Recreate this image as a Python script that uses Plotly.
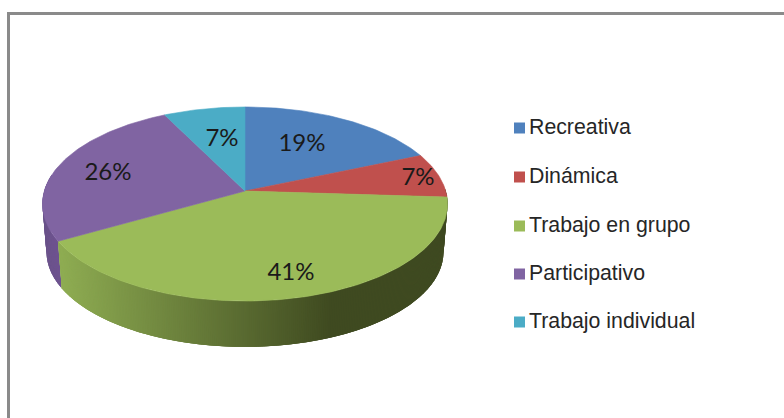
import math
import plotly.graph_objects as go

# chart data
categories = ["Recreativa", "Dinámica", "Trabajo en grupo", "Participativo", "Trabajo individual"]
values = [18.6, 7.4, 40.8, 25.8, 7.4]
colors = ["#4f81bd", "#c0504d", "#9bbb59", "#8064a2", "#4bacc6"]

# where Excel left the percentage labels (pixels)
label_x = [302, 418, 291, 108, 222]
label_y = [145, 179, 274, 174, 140]
legend_y = [128, 177, 226, 274, 322]

# tilted pie projection, fitted to the reference
CX, CY = 245, 191
RX, RY = 200.7, 95.3
PERSP = 0.134
DEPTH = 48
BOTTOM_SCALE = 0.98


def project(angle, scale=1.0, drop=0.0):
    """angle in degrees, clockwise from the top of the pie"""
    a = math.radians(angle)
    x, y = math.sin(a), -math.cos(a)
    d = 1 - PERSP * y
    return CX + scale * RX * x / d, CY + drop + scale * RY * y / d


def green_wall(x):
    # horizontal shading of the front wall, light on the left, dark from the middle on
    t = min(max((x - 60) / 270, 0), 1)
    r = round(142 + (63 - 142) * t)
    g = round(172 + (74 - 172) * t)
    b = round(82 + (32 - 82) * t)
    return f"rgb({r},{g},{b})"


def purple_wall(x):
    t = min(max((x - 42) / 20, 0), 1)
    r = round(106 + (112 - 106) * t)
    g = round(82 + (84 - 82) * t)
    b = round(138 + (146 - 138) * t)
    return f"rgb({r},{g},{b})"


fig = go.Figure()


def add_poly(xs, ys, color, line_width=0.6):
    fig.add_trace(go.Scatter(
        x=xs, y=ys, mode="lines", fill="toself", fillcolor=color,
        line=dict(color=color, width=line_width), hoverinfo="skip", showlegend=False,
    ))


def add_wall(start, end, shade):
    # strips overlap the previous one, that hides the seams between them
    n = int(end - start) * 2
    step = (end - start) / n
    for k in range(n):
        a0 = start + step * k
        a1 = min(a0 + step * 3, end)
        x0, y0 = project(a0)
        x1, y1 = project(a1)
        x2, y2 = project(a1, BOTTOM_SCALE, DEPTH)
        x3, y3 = project(a0, BOTTOM_SCALE, DEPTH)
        add_poly([x0, x1, x2, x3, x0], [y0, y1, y2, y3, y0], shade((x0 + x1) / 2), 0)


# slice limits
limits = [0]
for v in values:
    limits.append(limits[-1] + v * 360 / sum(values))

# side wall, front part only
add_wall(limits[3], 280, purple_wall)
add_wall(88, limits[3], green_wall)

# top face
for i, color in enumerate(colors):
    n = max(int(limits[i + 1] - limits[i]), 2)
    pts = [project(limits[i] + (limits[i + 1] - limits[i]) * k / n) for k in range(n + 1)]
    xs = [CX] + [p[0] for p in pts] + [CX]
    ys = [CY] + [p[1] for p in pts] + [CY]
    add_poly(xs, ys, color)

# percentage labels
fig.add_trace(go.Scatter(
    x=label_x, y=label_y, mode="text",
    text=[f"{round(v)}%" for v in values],
    textfont=dict(family="Lato", size=24, color="#1a1a1a"),
    hoverinfo="skip", showlegend=False,
))

# legend
fig.add_trace(go.Scatter(
    x=[519.5] * len(categories), y=legend_y, mode="markers",
    marker=dict(symbol="square", size=11, color=colors),
    hoverinfo="skip", showlegend=False,
))
fig.add_trace(go.Scatter(
    x=[529] * len(categories), y=[y + 1 for y in legend_y], mode="text",
    text=categories, textposition="middle right",
    textfont=dict(family="Liberation Sans", size=21.3, color="#262626"),
    hoverinfo="skip", showlegend=False,
))

# chart frame, cut off by the screenshot on the right and at the bottom
fig.add_shape(type="line", x0=8.5, x1=8.5, y0=12, y1=418, line=dict(color="#8a8a8a", width=3))
fig.add_shape(type="line", x0=7, x1=784, y0=13.5, y1=13.5, line=dict(color="#8a8a8a", width=3))

fig.update_layout(
    width=784, height=418,
    margin=dict(l=0, r=0, t=0, b=0),
    paper_bgcolor="white", plot_bgcolor="white",
    template="none",
    xaxis=dict(range=[0, 784], visible=False, fixedrange=True),
    yaxis=dict(range=[418, 0], visible=False, fixedrange=True),
)

fig.write_html("out.html", config={"displayModeBar": False},
               post_script="document.body.style.margin='0';document.body.style.overflow='hidden';")
